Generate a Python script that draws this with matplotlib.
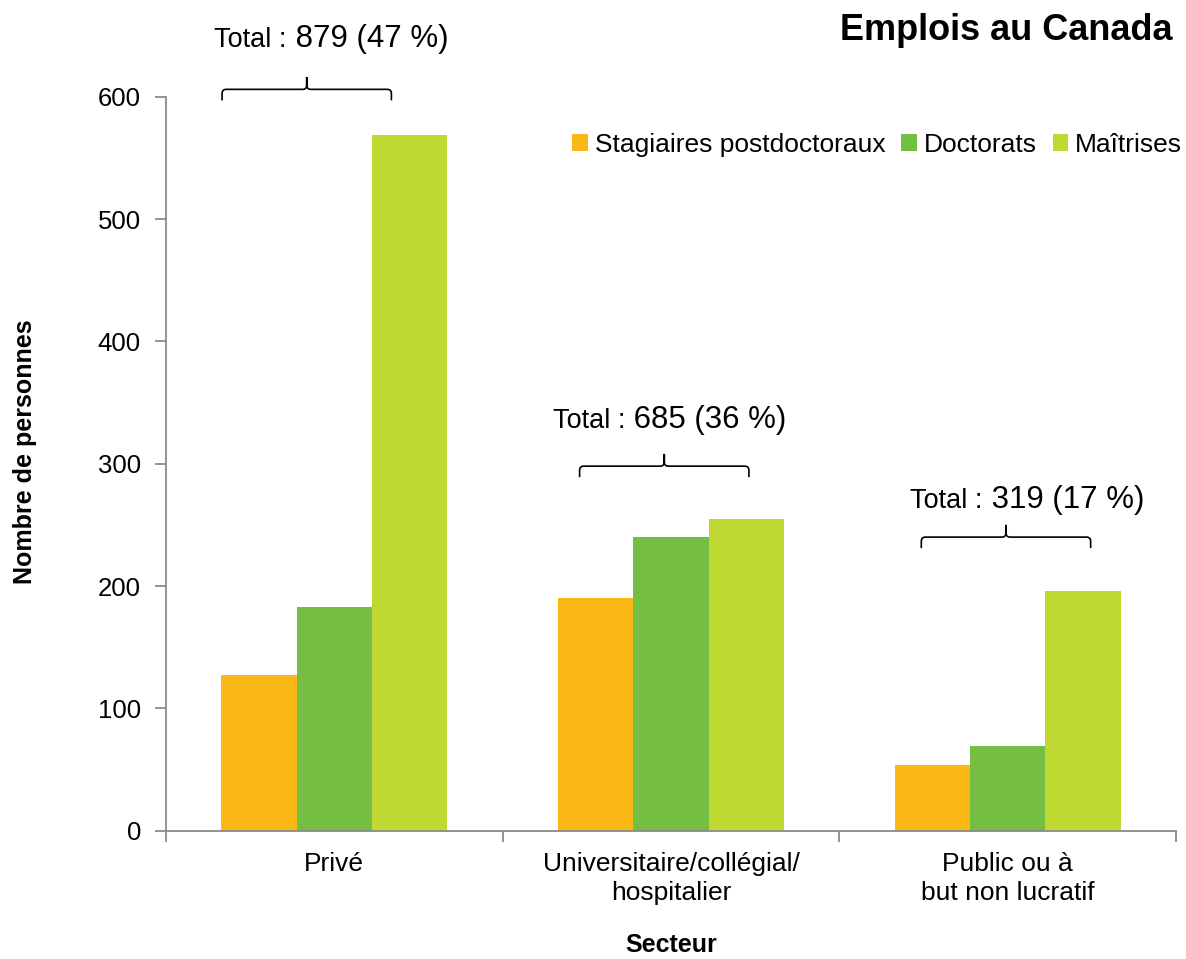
import numpy as np
import matplotlib
matplotlib.use('Agg')
import matplotlib.pyplot as plt
from matplotlib.path import Path
from matplotlib.patches import PathPatch

plt.rcParams['font.family'] = ['Liberation Sans', 'DejaVu Sans']

SECTEURS = ["Privé", "Universitaire/collégial/\nhospitalier", "Public ou à\nbut non lucratif"]
SERIES = ["Stagiaires postdoctoraux", "Doctorats", "Maîtrises"]
POSTDOCS = [127, 190, 54]
DOCTORATS = [183, 240, 69]
MAITRISES = [569, 255, 196]
TOTAUX = [879, 685, 319]
POURCENTS = [47, 36, 17]

COULEURS = ['#FBB715', '#74BE43', '#C0D832']
GRIS = '#8A8A8A'

# accolades (decalage du centre, hauteur de la ligne, hauteur du texte, point de separation du texte)
ACC_DX = [-0.082, -0.020, -0.005]
ACC_Y = [606, 298, 240]
TXT_Y = [641, 329, 264]
TXT_SPLIT = [-0.141, -0.136, -0.074]

fig = plt.figure(figsize=(11.86, 9.59), dpi=100)
fig.patch.set_facecolor('white')
ax = fig.add_axes([166/1186, 1 - 830.7/959, (1176 - 166)/1186, (830.7 - 96.7)/959])

x = np.arange(len(SECTEURS))
w = 0.224
for i, (vals, nom) in enumerate(zip([POSTDOCS, DOCTORATS, MAITRISES], SERIES)):
    ax.bar(x + (i - 1) * w, vals, width=w, color=COULEURS[i], label=nom, zorder=2)

ax.set_xlim(-0.5, 2.5)
ax.set_ylim(0, 600)
ax.set_yticks(np.arange(0, 601, 100))
ax.set_xticks([-0.5, 0.5, 1.5, 2.5])
ax.set_xticklabels([])
ax.set_xticks(x, minor=True)
ax.set_xticklabels(SECTEURS, minor=True, fontsize=19, linespacing=1.3)
ax.tick_params(axis='x', which='major', length=8, width=1.3, color=GRIS, direction='out')
ax.tick_params(axis='x', which='minor', length=0, pad=15)
ax.tick_params(axis='y', length=8, width=1.3, color=GRIS, direction='out', labelsize=18.5, pad=10)
for s in ['top', 'right']:
    ax.spines[s].set_visible(False)
for s in ['left', 'bottom']:
    ax.spines[s].set_color(GRIS)
    ax.spines[s].set_linewidth(1.3)

# accolades
rx, ry, bras, pic = 0.012, 3.5, 9, 10
half = 0.2515
for i in range(3):
    xt = x[i] + ACC_DX[i]
    x0, x1 = xt - half, xt + half
    y = ACC_Y[i]
    verts = [(x0, y - bras), (x0, y - ry), (x0, y), (x0 + rx, y), (xt - rx, y),
             (xt, y), (xt, y + ry), (xt, y + pic), (xt, y + ry), (xt, y),
             (xt + rx, y), (x1 - rx, y), (x1, y), (x1, y - ry), (x1, y - bras)]
    codes = [Path.MOVETO, Path.LINETO, Path.CURVE3, Path.CURVE3, Path.LINETO,
             Path.CURVE3, Path.CURVE3, Path.LINETO, Path.LINETO, Path.CURVE3,
             Path.CURVE3, Path.LINETO, Path.CURVE3, Path.CURVE3, Path.LINETO]
    ax.add_patch(PathPatch(Path(verts, codes), facecolor='none', edgecolor='black',
                           lw=1.2, clip_on=False, zorder=3))
    xs = x[i] + TXT_SPLIT[i]
    ax.text(xs, TXT_Y[i], "Total :", ha='right', va='baseline', fontsize=19.5, clip_on=False)
    ax.text(xs, TXT_Y[i], f" {TOTAUX[i]} ({POURCENTS[i]} %)", ha='left', va='baseline',
            fontsize=22.5, clip_on=False)

ax.legend(loc='center right', bbox_to_anchor=(1182/1186, 1 - 145/959),
          bbox_transform=fig.transFigure, ncol=3, frameon=False, fontsize=19,
          handlelength=0.6, handleheight=0.6, handletextpad=0.25, columnspacing=0.6,
          borderpad=0, borderaxespad=0)

fig.text(25/1186, 1 - 451.7/959, "Nombre de personnes", rotation=90, ha='center', va='center',
         fontsize=18, fontweight='bold')
fig.text(671/1186, 1 - 945/959, "Secteur", ha='center', va='center', fontsize=18, fontweight='bold')
fig.text(1172/1186, 1 - 31/959, "Emplois au Canada", ha='right', va='center', fontsize=26,
         fontweight='bold')

plt.savefig("out.png", dpi=100, facecolor='white')
plt.close()
